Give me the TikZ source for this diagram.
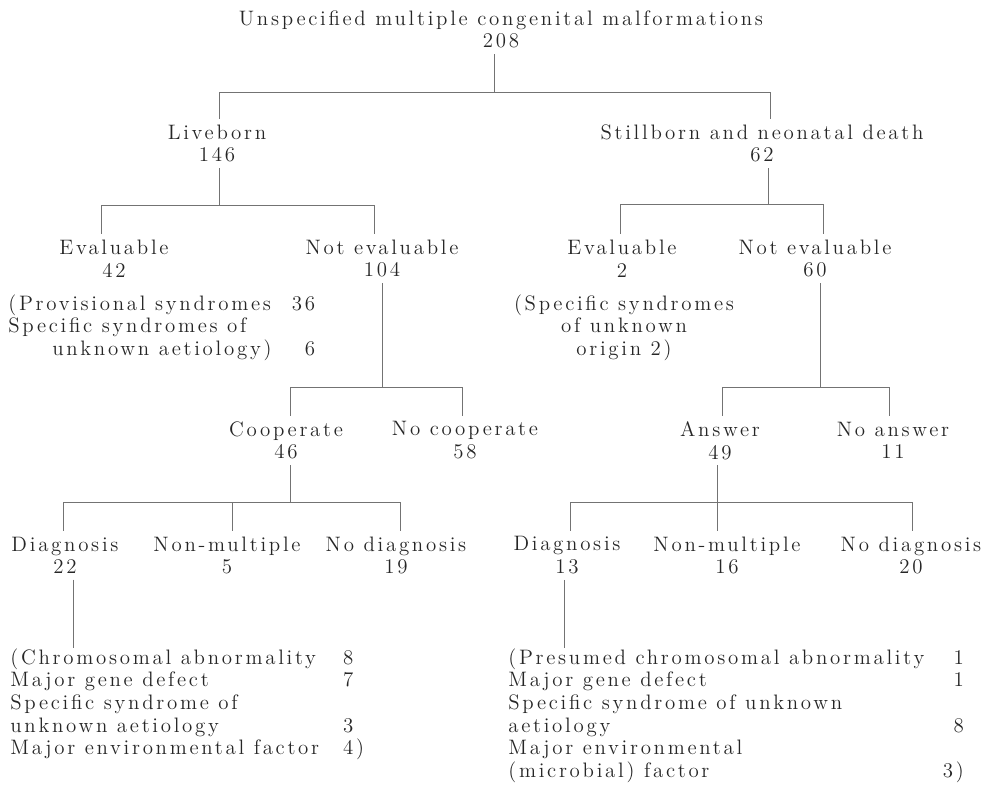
\documentclass[tikz,border=0pt]{standalone}
\usepackage{fontspec}
\usepackage{tikz}
\usetikzlibrary{calc}

\newfontfamily\chartfam{Latin Modern Roman}[LetterSpace=13]
\newcommand{\chartfont}{\chartfam\fontsize{11.5}{12.5}\selectfont}

\tikzset{
  box/.style={align=center, inner sep=3pt, text=black!85, font=\chartfont},
  list/.style={inner sep=0pt, text=black!85, font=\chartfont},
  branch/.style={draw=black!55, line width=0.5pt},
}

\begin{document}
\begin{tikzpicture}[x=0.55pt, y=-0.55pt]
    \useasboundingbox (0,0) rectangle (994,786);

    % classes
    \node[box] (all) at (501,29.4) {Unspecified multiple congenital malformations\\208};
    \node[box] (live) at (217,143.4) {Liveborn\\146};
    \node[box] (still) at (762,143.4) {Stillborn and neonatal death\\62};

    \node[box] (evalL) at (114,258.4) {Evaluable\\42};
    \node[box] (notevL) at (382,258.4) {Not evaluable\\104};
    \node[box] (evalR) at (622,258.4) {Evaluable\\2};
    \node[box] (notevR) at (815,258.4) {Not evaluable\\60};

    \node[box] (coop) at (286,440.4) {Cooperate\\46};
    \node[box] (nocoop) at (465,440.4) {No cooperate\\58};
    \node[box] (answer) at (720,440.4) {Answer\\49};
    \node[box] (noanswer) at (893,440.4) {No answer\\11};

    \node[box] (diagL) at (65,555.4) {Diagnosis\\22};
    \node[box] (nonmL) at (227,555.4) {Non-multiple\\5};
    \node[box] (nodiagL) at (396,555.4) {No diagnosis\\19};
    \node[box] (diagR) at (567,555.4) {Diagnosis\\13};
    \node[box] (nonmR) at (727,555.4) {Non-multiple\\16};
    \node[box] (nodiagR) at (911,555.4) {No diagnosis\\20};

    % break-downs
    \node[list, anchor=base west] (provL) at (8,310) {%
      \begin{tabular}[t]{@{}p{156pt}@{}r@{}}
        (Provisional syndromes & 36\\
        Specific syndromes of & \\
        \hspace*{2.1em}unknown aetiology) & 6
      \end{tabular}};
    \node[list, anchor=base] (specR) at (624,310) {%
      \begin{tabular}[t]{@{}c@{}}
        (Specific syndromes\\
        of unknown\\
        origin 2)
      \end{tabular}};
    \node[list, anchor=base west] (chromL) at (10,664) {%
      \begin{tabular}[t]{@{}p{183pt}@{}l@{}}
        (Chromosomal abnormality & 8\\
        Major gene defect & 7\\
        Specific syndrome of & \\
        unknown aetiology & 3\\
        Major environmental factor & 4)
      \end{tabular}};
    \node[list, anchor=base west] (chromR) at (508,664) {%
      \begin{tabular}[t]{@{}p{239pt}@{}r@{}}
        (Presumed chromosomal abnormality & 1\\
        Major gene defect & 1\\
        Specific syndrome of unknown & \\
        aetiology & 8\\
        Major environmental & \\
        (microbial) factor & 3)
      \end{tabular}};

    % junctions
    \coordinate (all-j) at (494,92);
    \coordinate (live-up) at (219,92);
    \coordinate (still-up) at (770,92);
    \coordinate (live-j) at (219,205);
    \coordinate (evalL-up) at (101,205);
    \coordinate (notevL-up) at (374,205);
    \coordinate (still-j) at (768,204);
    \coordinate (evalR-up) at (620,204);
    \coordinate (notevR-up) at (823,204);
    \coordinate (notevL-j) at (382,387);
    \coordinate (coop-up) at (290,387);
    \coordinate (nocoop-up) at (462,387);
    \coordinate (notevR-j) at (820,387);
    \coordinate (answer-up) at (722,387);
    \coordinate (noanswer-up) at (889,387);
    \coordinate (coop-j) at (290,502);
    \coordinate (diagL-up) at (63,502);
    \coordinate (nonmL-up) at (232,502);
    \coordinate (nodiagL-up) at (400,502);
    \coordinate (answer-j) at (717,502);
    \coordinate (diagR-up) at (570,502);
    \coordinate (nonmR-up) at (717,502);
    \coordinate (nodiagR-up) at (912,502);
    \coordinate (diagL-j) at (73,600);
    \coordinate (diagR-j) at (564,600);

    % tree lines
    \draw[branch] (all-j |- all.south) -- (all-j);
    \draw[branch] (live-up) -- (still-up);
    \draw[branch] (live-up) -- (live-up |- live.north);
    \draw[branch] (still-up) -- (still-up |- still.north);

    \draw[branch] (live-j |- live.south) -- (live-j);
    \draw[branch] (evalL-up) -- (notevL-up);
    \draw[branch] (evalL-up) -- (evalL-up |- evalL.north);
    \draw[branch] (notevL-up) -- (notevL-up |- notevL.north);

    \draw[branch] (still-j |- still.south) -- (still-j);
    \draw[branch] (evalR-up) -- (notevR-up);
    \draw[branch] (evalR-up) -- (evalR-up |- evalR.north);
    \draw[branch] (notevR-up) -- (notevR-up |- notevR.north);

    \draw[branch] (notevL-j |- notevL.south) -- (notevL-j);
    \draw[branch] (coop-up) -- (nocoop-up);
    \draw[branch] (coop-up) -- (coop-up |- coop.north);
    \draw[branch] (nocoop-up) -- (nocoop-up |- nocoop.north);

    \draw[branch] (notevR-j |- notevR.south) -- (notevR-j);
    \draw[branch] (answer-up) -- (noanswer-up);
    \draw[branch] (answer-up) -- (answer-up |- answer.north);
    \draw[branch] (noanswer-up) -- (noanswer-up |- noanswer.north);

    \draw[branch] (coop-j |- coop.south) -- (coop-j);
    \draw[branch] (diagL-up) -- (nodiagL-up);
    \draw[branch] (diagL-up) -- (diagL-up |- diagL.north);
    \draw[branch] (nonmL-up) -- (nonmL-up |- nonmL.north);
    \draw[branch] (nodiagL-up) -- (nodiagL-up |- nodiagL.north);

    \draw[branch] (answer-j |- answer.south) -- (answer-j);
    \draw[branch] (diagR-up) -- (nodiagR-up);
    \draw[branch] (diagR-up) -- (diagR-up |- diagR.north);
    \draw[branch] (nonmR-up) -- (nonmR-up |- nonmR.north);
    \draw[branch] (nodiagR-up) -- (nodiagR-up |- nodiagR.north);

    \draw[branch] (diagL-j |- diagL.south) -- (diagL-j |- chromL.north);
    \draw[branch] (diagR-j |- diagR.south) -- (diagR-j |- chromR.north);
\end{tikzpicture}
\end{document}
